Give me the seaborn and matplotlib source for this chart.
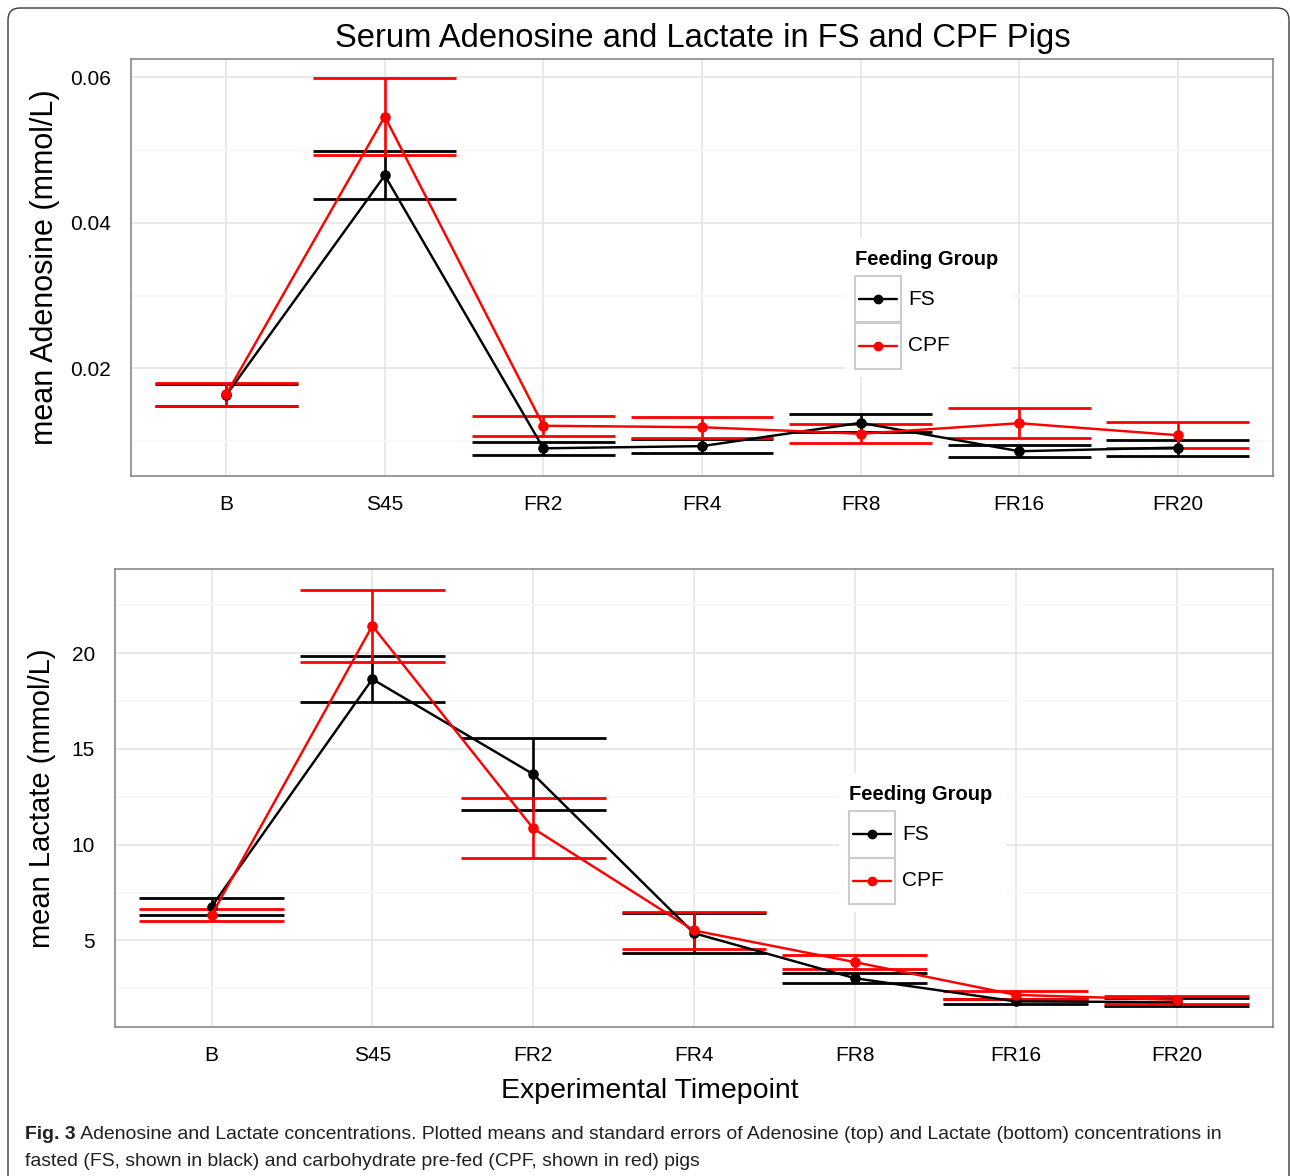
import numpy as np
import pandas as pd
import matplotlib
matplotlib.use("Agg")
import matplotlib.pyplot as plt
import seaborn as sns
from matplotlib.lines import Line2D
from matplotlib.patches import Rectangle, FancyBboxPatch
from matplotlib.ticker import MultipleLocator
from matplotlib.transforms import IdentityTransform

# ---------------- data ----------------
timepoints = ["B", "S45", "FR2", "FR4", "FR8", "FR16", "FR20"]
groups = ["FS", "CPF"]
group_colors = {"FS": "#000000", "CPF": "#FF0000"}

adeno_fs_mean = [0.0163, 0.0465, 0.0090, 0.0093, 0.0125, 0.0086, 0.0091]
adeno_fs_se = [0.0015, 0.0033, 0.0009, 0.00095, 0.0012, 0.0008, 0.0011]
adeno_cpf_mean = [0.0164, 0.0546, 0.0121, 0.0119, 0.0110, 0.01245, 0.0108]
adeno_cpf_se = [0.0016, 0.0053, 0.00137, 0.00147, 0.0013, 0.0021, 0.0018]

lact_fs_mean = [6.76, 18.64, 13.68, 5.38, 3.03, 1.82, 1.78]
lact_fs_se = [0.43, 1.19, 1.89, 1.06, 0.27, 0.13, 0.21]
lact_cpf_mean = [6.32, 21.42, 10.85, 5.52, 3.87, 2.16, 1.90]
lact_cpf_se = [0.30, 1.88, 1.56, 0.96, 0.35, 0.21, 0.22]

title = "Serum Adenosine and Lactate in FS and CPF Pigs"
ylabel_top = "mean Adenosine (mmol/L)"
ylabel_bottom = "mean Lactate (mmol/L)"
xlabel = "Experimental Timepoint"
legend_title = "Feeding Group"
caption_bold = "Fig. 3"
caption_line1 = (" Adenosine and Lactate concentrations. Plotted means and standard errors of "
                 "Adenosine (top) and Lactate (bottom) concentrations in")
caption_line2 = "fasted (FS, shown in black) and carbohydrate pre-fed (CPF, shown in red) pigs"


def make_df(fs_m, fs_s, cpf_m, cpf_s):
    rows = []
    for g, m, s in (("FS", fs_m, fs_s), ("CPF", cpf_m, cpf_s)):
        for t, mv, sv in zip(timepoints, m, s):
            rows.append({"Timepoint": t, "Group": g, "Mean": mv, "SE": sv})
    return pd.DataFrame(rows)


df_adeno = make_df(adeno_fs_mean, adeno_fs_se, adeno_cpf_mean, adeno_cpf_se)
df_lact = make_df(lact_fs_mean, lact_fs_se, lact_cpf_mean, lact_cpf_se)

# ---------------- style ----------------
sns.set_theme(style="white")
plt.rcParams["font.family"] = ["Liberation Sans", "DejaVu Sans"]
plt.rcParams["axes.edgecolor"] = "#7f7f7f"
plt.rcParams["axes.linewidth"] = 1.1
plt.rcParams["text.color"] = "black"
plt.rcParams["axes.labelcolor"] = "black"
plt.rcParams["xtick.color"] = "#333333"
plt.rcParams["ytick.color"] = "#333333"

W, H, DPI = 1290, 1176, 100
fig = plt.figure(figsize=(W / DPI, H / DPI), dpi=DPI)
fig.patch.set_facecolor("white")


def px_axes(left, top, right, bottom):
    return fig.add_axes([left / W, 1 - bottom / H, (right - left) / W, (bottom - top) / H])


def fx(x):
    return x / W


def fy(y):
    return 1 - y / H


ax_top = px_axes(131, 59, 1273, 476)
ax_bot = px_axes(115, 569, 1273, 1027)


def draw_legend(dx, dy):
    # ggplot-style legend drawn in figure pixel geometry
    fig.add_artist(Rectangle((fx(845 + dx), fy(377 + dy)), (1012 - 845) / W, (377 - 238) / H,
                             transform=fig.transFigure, facecolor="white",
                             edgecolor="none", zorder=8))
    fig.text(fx(855 + dx), fy(265 + dy), legend_title, fontsize=14.5, fontweight="bold",
             ha="left", va="baseline", color="black", zorder=9)
    for i, g in enumerate(groups):
        top = 276 + 46.5 * i + dy
        fig.add_artist(Rectangle((fx(855 + dx), fy(top + 46.5)), 46 / W, 46.5 / H,
                                 transform=fig.transFigure, fill=False,
                                 edgecolor="#cccccc", lw=1.5, zorder=9))
        cy = top + 23.25
        fig.add_artist(Line2D([fx(859 + dx), fx(897 + dx)], [fy(cy), fy(cy)],
                              transform=fig.transFigure, color=group_colors[g], lw=1.7,
                              zorder=10))
        fig.add_artist(Line2D([fx(878 + dx)], [fy(cy)], transform=fig.transFigure,
                              color=group_colors[g], marker="o", markersize=6, lw=0,
                              zorder=11))
        fig.text(fx(908 + dx), fy(cy), g, fontsize=15, ha="left", va="center",
                 color="black", zorder=9)


def draw_panel(ax, df, major, minor, fmt, ylabel, ylab_size, ylab_x):
    # error bars (mean +/- SE) with wide caps
    for g in groups:
        sub = df[df["Group"] == g].set_index("Timepoint").loc[timepoints]
        xs = np.arange(len(timepoints))
        lo = sub["Mean"] - sub["SE"]
        hi = sub["Mean"] + sub["SE"]
        c = group_colors[g]
        ax.vlines(xs, lo, hi, color=c, lw=1.9, zorder=3)
        ax.hlines(lo, xs - 0.45, xs + 0.45, color=c, lw=2.0, zorder=3)
        ax.hlines(hi, xs - 0.45, xs + 0.45, color=c, lw=2.0, zorder=3)
    sns.pointplot(data=df, x="Timepoint", y="Mean", hue="Group", order=timepoints,
                  hue_order=groups, palette=group_colors, errorbar=None, markers="o",
                  markersize=6.3, linewidth=1.75, ax=ax)
    for ln in ax.lines:
        ln.set_zorder(4)
    if ax.get_legend() is not None:
        ax.get_legend().remove()

    lo_all = (df["Mean"] - df["SE"]).min()
    hi_all = (df["Mean"] + df["SE"]).max()
    pad = 0.05 * (hi_all - lo_all)
    ax.set_ylim(lo_all - pad, hi_all + pad)
    ax.set_xlim(-0.6, len(timepoints) - 0.4)

    ax.yaxis.set_major_locator(MultipleLocator(major))
    ax.yaxis.set_minor_locator(MultipleLocator(minor))
    ax.yaxis.set_major_formatter(fmt)
    ax.set_axisbelow(True)
    ax.grid(True, which="major", axis="both", color="#e3e3e3", lw=1.1)
    ax.grid(True, which="minor", axis="y", color="#f6f6f6", lw=1.1)
    ax.tick_params(axis="both", which="major", length=6, width=1.1, color="#333333",
                   labelsize=15, labelcolor="black")
    ax.tick_params(axis="x", which="major", pad=7.5)
    ax.tick_params(axis="y", which="major", pad=8.5)
    ax.tick_params(axis="y", which="minor", length=0)
    for sp in ax.spines.values():
        sp.set_visible(True)
        sp.set_color("#7f7f7f")
        sp.set_linewidth(1.1)
    ax.set_xlabel("")
    ax.set_ylabel(ylabel, fontsize=ylab_size, color="black")
    ax.yaxis.set_label_coords(ylab_x, 0.5)
    ax.set_xticks(range(len(timepoints)))
    ax.set_xticklabels(timepoints)


draw_panel(ax_top, df_adeno, 0.02, 0.01, "{x:.2f}", ylabel_top, 22, (60 - 131) / 1142)
draw_panel(ax_bot, df_lact, 5, 2.5, "{x:.0f}", ylabel_bottom, 21, (56 - 115) / 1158)
draw_legend(0, 0)
draw_legend(-6, 535)

ax_bot.set_xlabel(xlabel, fontsize=20.5, color="black")
ax_bot.xaxis.set_label_coords((650 - 115) / 1158, (1027 - 1078) / 458)

fig.text(703 / W, 1 - 38 / H, title, ha="center", va="center", fontsize=23.6, color="black")

# caption
renderer = fig.canvas.get_renderer()
cap_family = ["Liberation Sans", "DejaVu Sans"]
cap_fs = 14
t_bold = fig.text(25 / W, 1 - 1139 / H, caption_bold, fontsize=cap_fs, fontweight="bold",
                  family=cap_family, color="#231f20", va="baseline", ha="left")
fig.canvas.draw()
bbw = t_bold.get_window_extent(renderer)
t1 = fig.text(bbw.x1 / W, 1 - 1139 / H, caption_line1, fontsize=cap_fs, family=cap_family,
              color="#231f20", va="baseline", ha="left")
fig.canvas.draw()
total = t1.get_window_extent(renderer).x1 - 25
scale = (1228 - 25) / total
for t in (t_bold, t1):
    t.set_fontsize(cap_fs * scale)
fig.canvas.draw()
bbw = t_bold.get_window_extent(renderer)
t1.set_x(bbw.x1 / W)
fig.text(25 / W, 1 - 1166 / H, caption_line2, fontsize=cap_fs * scale, family=cap_family,
         color="#231f20", va="baseline", ha="left")

# outer rounded frame
frame = FancyBboxPatch((8, -20), 1281, H - 8 + 20, boxstyle="round,pad=0,rounding_size=12",
                       transform=IdentityTransform(), fill=False, edgecolor="#3a3a3a",
                       lw=1.0, zorder=30)
fig.add_artist(frame)

fig.savefig("out.png", dpi=DPI, facecolor="white")
